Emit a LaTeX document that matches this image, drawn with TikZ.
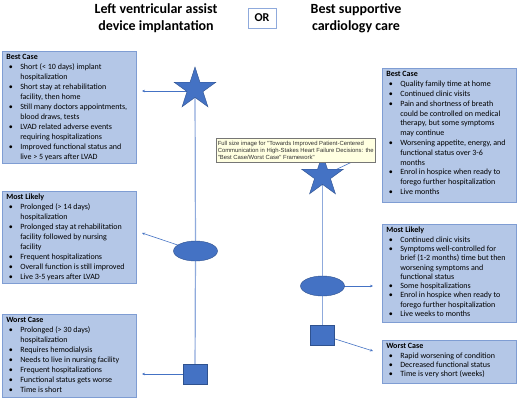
\documentclass[tikz,border=0pt]{standalone}
\usepackage{fontspec}
\setmainfont{Carlito}
\newfontfamily\tipfont{Liberation Sans}
\usetikzlibrary{shapes.geometric,arrows.meta,backgrounds}
\definecolor{boxfill}{HTML}{B4C7E7}
\definecolor{boxline}{HTML}{7F9DD3}
\definecolor{shapefill}{HTML}{4472C4}
\definecolor{shapeline}{HTML}{2F528F}
\definecolor{vline}{HTML}{8FAADC}
\definecolor{arrcol}{HTML}{4472C4}
\definecolor{tipfill}{HTML}{FFFFE1}
\definecolor{tipline}{HTML}{767676}
\definecolor{tiptext}{HTML}{333333}
\newcommand{\boxbody}[4]{%
\begin{minipage}[t][#1][t]{126pt}\fontsize{8}{#2}\selectfont\raggedright\parskip=0pt
\rule{0pt}{8.5pt}\textbf{#3}\par
\begin{list}{\textbullet}{\setlength\leftmargin{14pt}\setlength\labelwidth{6.5pt}\setlength\labelsep{7.5pt}\setlength\itemsep{0pt}\setlength\parsep{0pt}\setlength\topsep{0pt}\setlength\partopsep{0pt}}
#4
\end{list}
\end{minipage}}
\tikzset{
  cbox/.style={draw=boxline, fill=boxfill, line width=0.6pt, inner xsep=4pt, inner ysep=0pt, anchor=north west},
  heading/.style={align=center, font=\fontsize{14}{17}\selectfont\bfseries},
  orbox/.style={draw=vline, fill=white, line width=0.7pt, minimum width=28, minimum height=20, inner sep=0pt, font=\fontsize{12}{14}\selectfont\bfseries},
  starshape/.style={star, star points=5, star point ratio=2.618, minimum size=44, inner sep=0pt, fill=shapefill, draw=shapeline, line width=0.4pt},
  ellshape/.style={ellipse, minimum width=44, minimum height=20, inner sep=0pt, fill=shapefill, draw=shapeline, line width=0.4pt},
  sqshape/.style={rectangle, minimum width=24, minimum height=20, inner sep=0pt, fill=shapefill, draw=shapeline, line width=0.4pt},
  vl/.style={draw=vline, line width=1.2pt},
  arr/.style={draw=arrcol, line width=0.6pt, -{Stealth[length=3pt,width=2.6pt]}},
  tipbox/.style={draw=tipline, fill=tipfill, line width=0.5pt, anchor=north west, minimum width=159, minimum height=24, inner xsep=1.5pt, inner ysep=1.5pt, align=left, text=tiptext, font=\tipfont\fontsize{5.9}{6.9}\selectfont}
}
\begin{document}
\begin{tikzpicture}[x=1pt,y=-1pt]
\useasboundingbox (0,0) rectangle (520,402);
% headings
\node[heading] (hl) at (156,18) {Left ventricular assist\\device implantation};
\node[heading] (hr) at (356,18) {Best supportive\\cardiology care};
\node[orbox] (or) at (262,18) {OR};
% left boxes
\node[cbox] (lbest) at (2,51) {\boxbody{112pt}{10pt}{Best Case}{%
\item Short (< 10 days) implant\\ hospitalization
\item Short stay at rehabilitation\\ facility, then home
\item Still many doctors appointments,\\ blood draws, tests
\item LVAD related adverse events\\ requiring hospitalizations
\item Improved functional status and\\ live > 5 years after LVAD}};
\node[cbox] (lml) at (2,191) {\boxbody{92pt}{10pt}{Most Likely}{%
\item Prolonged (> 14 days)\\ hospitalization
\item Prolonged stay at rehabilitation\\ facility followed by nursing\\ facility
\item Frequent hospitalizations
\item Overall function is still improved
\item Live 3-5 years after LVAD}};
\node[cbox] (lwc) at (2,314) {\boxbody{83pt}{10pt}{Worst Case}{%
\item Prolonged (> 30 days)\\ hospitalization
\item Requires hemodialysis
\item Needs to live in nursing facility
\item Frequent hospitalizations
\item Functional status gets worse
\item Time is short}};
% right boxes
\node[cbox] (rbest) at (382,68) {\boxbody{134pt}{9.8pt}{Best Case}{%
\item Quality family time at home
\item Continued clinic visits
\item Pain and shortness of breath\\ could be controlled on medical\\ therapy, but some symptoms\\ may continue
\item Worsening appetite, energy, and\\ functional status over 3-6\\ months
\item Enrol in hospice when ready to\\ forego further hospitalization
\item Live months}};
\node[cbox] (rml) at (382,224) {\boxbody{98pt}{9.3pt}{Most Likely}{%
\item Continued clinic visits
\item Symptoms well-controlled for\\ brief (1-2 months) time but then\\ worsening symptoms and\\ functional status
\item Some hospitalizations
\item Enrol in hospice when ready to\\ forego further hospitalization
\item Live weeks to months}};
\node[cbox] (rwc) at (382,340) {\boxbody{43pt}{9.3pt}{Worst Case}{%
\item Rapid worsening of condition
\item Decreased functional status
\item Time is very short (weeks)}};
% shapes
\node[starshape] (ls) at (195,89) {};
\node[ellshape] (le) at (195.5,251) {};
\node[sqshape] (lsq) at (195,374) {};
\node[starshape] (rs) at (322.5,176) {};
\node[ellshape] (re) at (322.5,286) {};
\node[sqshape] (rsq) at (322.5,335) {};
% free ends
\coordinate (t1) at (142,91);
\coordinate (t2) at (142,233);
\coordinate (t3) at (142,374);
\coordinate (t4) at (373,152);
\coordinate (t5) at (373,286);
\coordinate (t6) at (373,351);
\begin{scope}[on background layer]
\fill[white] (0,0) rectangle (520,402);
\draw[vl] (ls.center) -- (le.center) -- (lsq.center);
\draw[vl] (rs.center) -- (re.center) -- (rsq.center);
\draw[arr] (ls.center |- t1) -- (t1);
\draw[arr] (le.center) -- (t2);
\draw[arr] (lsq.center) -- (t3);
\draw[arr] (rs.center) -- (t4);
\draw[arr] (re.center) -- (t5);
\draw[arr] (rsq.center) -- (t6);
\end{scope}
% tooltip
\node[tipbox] (tip) at (216,138) {Full size image for "Towards Improved Patient-Centered\\Communication in High-Stakes Heart Failure Decisions: the\\"Best Case/Worst Case" Framework"};
\end{tikzpicture}
\end{document}
